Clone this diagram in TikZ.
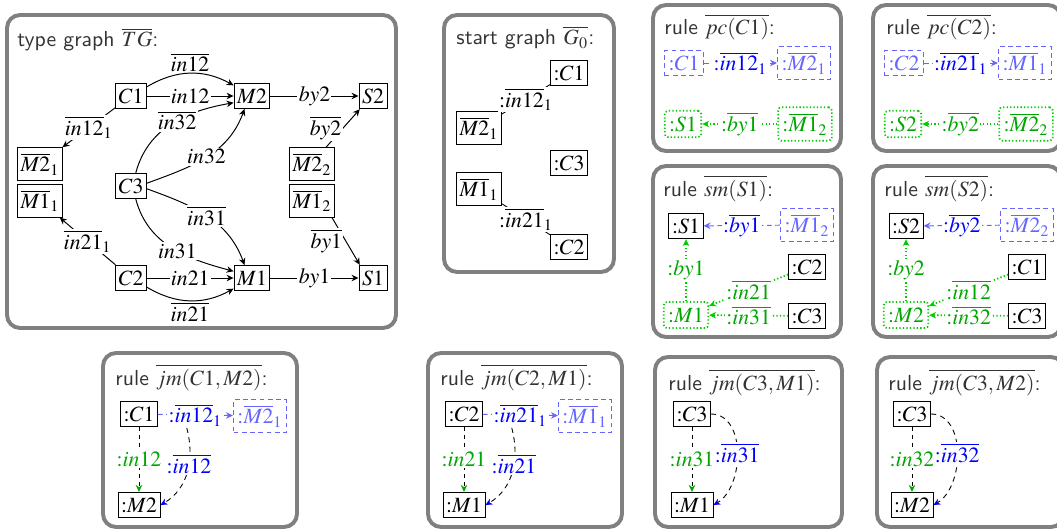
\documentclass[tikz,border=0pt]{standalone}
\usepackage{mathptmx}
\renewcommand{\sfdefault}{lmss}
\usetikzlibrary{arrows.meta,positioning}
\colorlet{inblue}{blue}
\colorlet{boxblue}{blue!60}
\colorlet{ingreen}{green!65!black}
\colorlet{dotgreen}{green!80!black}
\newcommand{\icol}{\mathord{\mathbf{:}}}
\tikzset{
  panel/.style={draw=black!50, line width=1.8pt, rounded corners=6pt},
  ttl/.style={anchor=base west, inner sep=0pt, text=black!80, font=\sffamily},
  tbox/.style={draw, line width=0.45pt, inner xsep=1.4pt, inner ysep=2.4pt, fill=white},
  nbox/.style={draw=boxblue, text=boxblue, dash pattern=on 2.2pt off 1.6pt, line width=0.6pt, inner xsep=1.8pt, inner ysep=2.4pt},
  pbox/.style={draw=dotgreen, text=ingreen, dash pattern=on 0.6pt off 1pt, line width=0.8pt, inner xsep=2pt, inner ysep=2.6pt, rounded corners=1.5pt},
  elab/.style={fill=white, inner sep=0.6pt},
  arr/.style={-{Stealth[length=3.2pt,width=3pt]}, line width=0.45pt},
  narr/.style={arr, draw=boxblue, dash pattern=on 2.2pt off 1.6pt},
  parr/.style={arr, draw=dotgreen, dash pattern=on 0.6pt off 1pt, line width=0.8pt},
  mapg/.style={line width=0.4pt, dash pattern=on 1.8pt off 1.8pt, -{Stealth[length=3.2pt,width=3pt,color=ingreen]}},
  mapb/.style={line width=0.4pt, dash pattern=on 2.4pt off 2pt, -{Stealth[length=3.2pt,width=3pt,color=inblue]}}
}
\begin{document}
\begin{tikzpicture}[x=0.46pt, y=0.46pt]
    \useasboundingbox (0,0) rectangle (1057,-531);
    % panels
    \foreach \xa/\ya/\xb/\yb in {7/-15/396/-328, 444/-15/614/-272, 653/-5/841/-151, 873/-5/1061/-151,
        653/-166/841/-337, 873/-166/1061/-337, 103/-353/297/-527, 428/-353/622/-527,
        655/-357/842/-527, 877/-357/1064/-527}
        \draw[panel] (\xa,\ya) rectangle (\xb,\yb);

    % type graph
    \node[ttl] at (17,-47) {type graph $\overline{TG}$:};
    \node[tbox] (C1) at (131,-96) {$C1$};
    \node[tbox] (M2) at (252,-96) {$M2$};
    \node[tbox] (S2) at (373,-96) {$S2$};
    \node[tbox] (C3) at (131,-186) {$C3$};
    \node[tbox] (C2) at (131,-278) {$C2$};
    \node[tbox] (M1) at (252,-278) {$M1$};
    \node[tbox] (S1) at (373,-278) {$S1$};
    \node[tbox] (M21) at (40,-164) {$\overline{M2}_1$};
    \node[tbox, below=1.5pt of M21] (M11) {$\overline{M1}_1$};
    \node[tbox] (M22) at (312,-164) {$\overline{M2}_2$};
    \node[tbox, below=1.5pt of M22] (M12) {$\overline{M1}_2$};
    \draw[arr] (C1) -- node[elab]{$in12$} (M2);
    \draw[arr] (C1) to[bend left=30] node[above, inner sep=0.5pt]{$\overline{in12}$} (M2);
    \draw[arr] (C2) -- node[elab]{$in21$} (M1);
    \draw[arr] (C2) to[bend right=30] node[below, inner sep=0.5pt]{$\overline{in21}$} (M1);
    \draw[arr] (C3.70) to[out=75,in=190] node[elab,pos=0.55]{$\overline{in32}$} (M2.200);
    \draw[arr] (C3.10) to[out=20,in=250] node[elab]{$in32$} (M2.240);
    \draw[arr] (C3.-10) to[out=-20,in=110] node[elab]{$\overline{in31}$} (M1.120);
    \draw[arr] (C3.-70) to[out=-75,in=165] node[elab,pos=0.55]{$in31$} (M1.160);
    \draw[arr] (M2) -- node[elab]{$by2$} (S2);
    \draw[arr] (M1) -- node[elab]{$by1$} (S1);
    \draw[arr] (M22.50) -- node[elab, xshift=-8pt]{$\overline{by2}$} (S2.225);
    \draw[arr] (M12.-40) -- node[elab, xshift=-9pt]{$\overline{by1}$} (S1.135);
    \draw[arr] (C1) -- node[elab]{$\overline{in12}_1$} (M21);
    \draw[arr] (C2) -- node[elab]{$\overline{in21}_1$} (M11);

    % start graph
    \node[ttl] at (456,-45) {start graph $\overline{G_0}$:};
    \node[tbox] (gC1) at (569,-73) {$\icol C1$};
    \node[tbox] (gM21) at (479,-128) {$\overline{M2}_1$};
    \node[tbox] (gC3) at (569,-163) {$\icol C3$};
    \node[tbox] (gM11) at (479,-189) {$\overline{M1}_1$};
    \node[tbox] (gC2) at (569,-247) {$\icol C2$};
    \draw (gC1) -- node[elab]{${:}\overline{in12}_1$} (gM21);
    \draw (gC2) -- node[elab]{${:}\overline{in21}_1$} (gM11);

    % rule pc(C1)
    \node[ttl] at (664,-35) {rule $\overline{pc(C1)}$:};
    \node[nbox] (pC1) at (684,-63) {$\icol C1$};
    \node[nbox] (pM21) at (804,-63) {$\icol\overline{M2}_1$};
    \draw[narr] (pC1) -- node[elab, text=inblue]{${:}\overline{in12}_1$} (pM21);
    \node[pbox] (pS1) at (683,-124) {$\icol S1$};
    \node[pbox] (pM12) at (805,-124) {$\icol\overline{M1}_2$};
    \draw[parr] (pM12) -- node[elab, text=ingreen]{${:}\overline{by1}$} (pS1);

    % rule pc(C2)
    \node[ttl] at (886,-35) {rule $\overline{pc(C2)}$:};
    \node[nbox] (pC2) at (904,-63) {$\icol C2$};
    \node[nbox] (pM11) at (1025,-63) {$\icol\overline{M1}_1$};
    \draw[narr] (pC2) -- node[elab, text=inblue]{${:}\overline{in21}_1$} (pM11);
    \node[pbox] (pS2) at (903,-124) {$\icol S2$};
    \node[pbox] (pM22) at (1026,-124) {$\icol\overline{M2}_2$};
    \draw[parr] (pM22) -- node[elab, text=ingreen]{${:}\overline{by2}$} (pS2);

    % rule sm(S1)
    \node[ttl] at (663,-196) {rule $\overline{sm(S1)}$:};
    \node[tbox] (sS1) at (686,-226) {$\icol S1$};
    \node[nbox] (sM12) at (807,-225) {$\icol\overline{M1}_2$};
    \draw[narr] (sM12) -- node[elab, text=inblue]{${:}\overline{by1}$} (sS1);
    \node[tbox] (sC2) at (807,-267) {$\icol C2$};
    \node[pbox] (sM1) at (686,-315) {$\icol M1$};
    \node[tbox] (sC3) at (807,-316) {$\icol C3$};
    \draw[parr] (sM1) -- node[elab, text=ingreen]{${:}by1$} (sS1);
    \draw[parr] (sC2) -- node[elab, text=ingreen]{${:}\overline{in21}$} (sM1);
    \draw[parr] (sC3) -- node[elab, text=ingreen]{${:}\overline{in31}$} (sM1);

    % rule sm(S2)
    \node[ttl] at (884,-196) {rule $\overline{sm(S2)}$:};
    \node[tbox] (sS2) at (906,-226) {$\icol S2$};
    \node[nbox] (sM22) at (1027,-225) {$\icol\overline{M2}_2$};
    \draw[narr] (sM22) -- node[elab, text=inblue]{${:}\overline{by2}$} (sS2);
    \node[tbox] (sC1) at (1027,-267) {$\icol C1$};
    \node[pbox] (sM2) at (906,-315) {$\icol M2$};
    \node[tbox] (sC3b) at (1027,-316) {$\icol C3$};
    \draw[parr] (sM2) -- node[elab, text=ingreen]{${:}by2$} (sS2);
    \draw[parr] (sC1) -- node[elab, text=ingreen]{${:}\overline{in12}$} (sM2);
    \draw[parr] (sC3b) -- node[elab, text=ingreen]{${:}\overline{in32}$} (sM2);

    % rule jm(C1,M2)
    \node[ttl] at (115,-385) {rule $\overline{jm(C1,M2)}$:};
    \node[tbox] (jC1) at (139,-414) {$\icol C1$};
    \node[nbox] (jM21) at (260,-416) {$\icol\overline{M2}_1$};
    \draw[narr] (jC1) -- node[elab, text=inblue] (jl1) {${:}\overline{in12}_1$} (jM21);
    \node[tbox] (jM2) at (139,-505) {$\icol M2$};
    \draw[mapg] (jC1) -- node[elab, text=ingreen]{${:}in12$} (jM2);
    \draw[mapb] ([xshift=-4pt]jl1.south) to[out=-75,in=30] node[elab, text=inblue, pos=0.4]{${:}\overline{in12}$} (jM2.east);

    % rule jm(C2,M1)
    \node[ttl] at (440,-385) {rule $\overline{jm(C2,M1)}$:};
    \node[tbox] (jC2) at (464,-414) {$\icol C2$};
    \node[nbox] (jM11) at (585,-416) {$\icol\overline{M1}_1$};
    \draw[narr] (jC2) -- node[elab, text=inblue] (jl2) {${:}\overline{in21}_1$} (jM11);
    \node[tbox] (jM1) at (464,-505) {$\icol M1$};
    \draw[mapg] (jC2) -- node[elab, text=ingreen]{${:}in21$} (jM1);
    \draw[mapb] ([xshift=-4pt]jl2.south) to[out=-75,in=30] node[elab, text=inblue, pos=0.4]{${:}\overline{in21}$} (jM1.east);

    % rule jm(C3,M1)
    \node[ttl] at (668,-390) {rule $\overline{jm(C3,M1)}$:};
    \node[tbox] (kC3) at (692,-414) {$\icol C3$};
    \node[tbox] (kM1) at (692,-505) {$\icol M1$};
    \draw[mapg] (kC3) -- node[elab, text=ingreen]{${:}in31$} (kM1);
    \draw[mapb] (kC3.east) to[out=0,in=30] node[elab, text=inblue]{${:}\overline{in31}$} (kM1.east);

    % rule jm(C3,M2)
    \node[ttl] at (888,-390) {rule $\overline{jm(C3,M2)}$:};
    \node[tbox] (lC3) at (912,-414) {$\icol C3$};
    \node[tbox] (lM2) at (912,-505) {$\icol M2$};
    \draw[mapg] (lC3) -- node[elab, text=ingreen]{${:}in32$} (lM2);
    \draw[mapb] (lC3.east) to[out=0,in=30] node[elab, text=inblue]{${:}\overline{in32}$} (lM2.east);
\end{tikzpicture}
\end{document}
